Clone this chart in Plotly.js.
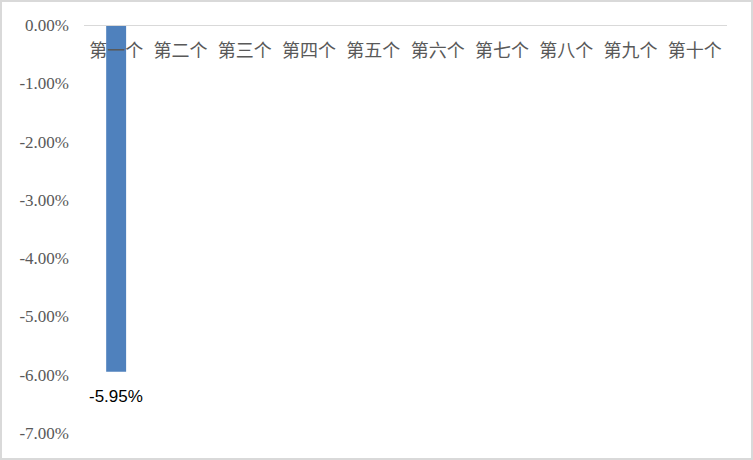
<!DOCTYPE html>
<html>
<head>
<meta charset="utf-8">
<script src="https://cdn.plot.ly/plotly-3.0.1.min.js"></script>
<style>
  html, body { margin: 0; padding: 0; background: #fff; }
  #chart { width: 753px; height: 460px; box-sizing: border-box; border: 2px solid #d9d9d9; }
</style>
</head>
<body>
<div id="chart"></div>
<script>
// categories and values
var categories = ['第一个', '第二个', '第三个', '第四个', '第五个', '第六个', '第七个', '第八个', '第九个', '第十个'];
var values = [-0.0595, null, null, null, null, null, null, null, null, null];
var labels = ['-5.95%', '', '', '', '', '', '', '', '', ''];
var yTicks = [0, -0.01, -0.02, -0.03, -0.04, -0.05, -0.06, -0.07];
var yTickText = ['0.00%', '-1.00%', '-2.00%', '-3.00%', '-4.00%', '-5.00%', '-6.00%', '-7.00%'];

var data = [{
	type: 'bar',
	x: categories,
	y: values,
	marker: {color: '#4f81bd'},
	hoverinfo: 'none'
}];

// data labels under the bars
var annotations = [];
for (var i = 0; i < categories.length; i++) {
	if (values[i] === null) continue;
	annotations.push({
		x: categories[i],
		y: values[i],
		text: labels[i],
		showarrow: false,
		yanchor: 'top',
		yshift: -13,
		font: {family: 'Liberation Sans, Arial, sans-serif', size: 17, color: '#000'}
	});
}

var layout = {
	width: 749,
	height: 456,
	margin: {l: 82, r: 24, t: 23, b: 25},
	paper_bgcolor: '#fff',
	plot_bgcolor: '#fff',
	bargap: 0.69,
	showlegend: false,
	annotations: annotations,
	font: {family: 'Noto Sans CJK SC, sans-serif', color: '#595959', size: 14},
	// x axis sits on the 0 line at the top, labels hang below it
	xaxis: {
		type: 'category',
		side: 'bottom',
		anchor: 'free',
		position: 1,
		ticks: '',
		showline: true,
		linecolor: '#d9d9d9',
		linewidth: 1,
		showgrid: false,
		ticklabelstandoff: 9,
		tickfont: {family: 'Noto Sans CJK SC, sans-serif', size: 18, color: '#595959'}
	},
	yaxis: {
		range: [-0.07, 0],
		tickvals: yTicks,
		ticktext: yTickText,
		showgrid: false,
		zeroline: false,
		showline: false,
		ticks: '',
		ticklabelstandoff: 14,
		tickfont: {family: 'Liberation Serif, serif', size: 17, color: '#595959'}
	}
};

Plotly.newPlot('chart', data, layout, {displayModeBar: false, staticPlot: true});
</script>
</body>
</html>
